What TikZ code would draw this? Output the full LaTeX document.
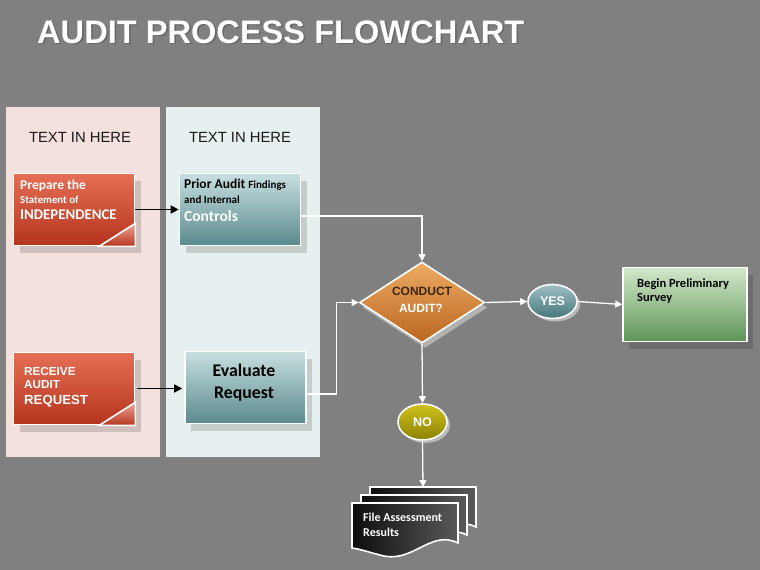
\documentclass[tikz,border=0pt]{standalone}
\usepackage{fontspec}
\setmainfont{Liberation Sans}
\newfontfamily\calfont{Carlito}
\usetikzlibrary{shapes.geometric,shadows,arrows.meta,calc}
\definecolor{bg}{HTML}{808080}
\definecolor{pinkpanel}{HTML}{F4E1DD}
\definecolor{bluepanel}{HTML}{E7F0F0}
\definecolor{redT}{HTML}{E56F55}
\definecolor{redB}{HTML}{B5341E}
\definecolor{tealT}{HTML}{C8DFE0}
\definecolor{tealB}{HTML}{5A8A8C}
\definecolor{greenT}{HTML}{D2E8CA}
\definecolor{greenB}{HTML}{5E9557}
\definecolor{orT}{HTML}{EEAA62}
\definecolor{orB}{HTML}{B9661F}
\definecolor{yesT}{HTML}{9CC0C2}
\definecolor{yesB}{HTML}{46767B}
\definecolor{noT}{HTML}{CFC21E}
\definecolor{noB}{HTML}{8C8200}
\definecolor{conduct}{HTML}{3A2612}
\tikzset{
  x=1pt, y=-1pt,
  box/.style={rectangle, draw=white, line width=1.6pt, inner sep=0pt},
  shad/.style={drop shadow={shadow xshift=6pt, shadow yshift=-7pt, fill=black, opacity=0.15}},
  redbox/.style={box, top color=redT, bottom color=redB, minimum width=121pt, minimum height=72pt, shad},
  tealbox/.style={box, top color=tealT, bottom color=tealB, minimum width=121pt, minimum height=72pt, shad},
  greenbox/.style={box, top color=greenT, bottom color=greenB, minimum width=124pt, minimum height=74pt, shad},
  oval/.style={ellipse, draw=white, line width=1.6pt, inner sep=0pt, minimum width=49pt, minimum height=34pt,
     drop shadow={shadow xshift=3pt, shadow yshift=-3pt, fill=white, opacity=0.45}},
  wline/.style={draw=white, line width=1.3pt},
  warrow/.style={wline, -{Triangle[width=7pt,length=7pt]}},
  barrow/.style={draw=black, line width=1.5pt, -{Triangle[width=8pt,length=8pt]}},
  txt/.style={inner sep=0pt, anchor=west, align=left},
  cal/.style={txt, font=\calfont\bfseries},
}
\begin{document}
\begin{tikzpicture}
\useasboundingbox (0,0) rectangle (760,570);
\fill[bg] (0,0) rectangle (760,570);
% title
\node[txt, text=black!60, font=\bfseries\fontsize{32.6}{36}\selectfont] (titleshadow) at (38.5,33.5) {AUDIT PROCESS FLOWCHART};
\node[txt, text=white, font=\bfseries\fontsize{32.6}{36}\selectfont] (title) at (37,32) {AUDIT PROCESS FLOWCHART};
% panels
\fill[pinkpanel] (6,107) rectangle (160,457);
\fill[bluepanel] (166,107) rectangle (320,457);
\node[font=\fontsize{14.8}{17}\selectfont, text=black!90] (h1) at (80,137) {TEXT IN HERE};
\node[font=\fontsize{14.8}{17}\selectfont, text=black!90] (h2) at (240,137) {TEXT IN HERE};
% red boxes
\node[redbox] (red1) at (74,209.5) {};
\node[redbox] (red2) at (74,388.5) {};
\foreach \n in {red1,red2}{
  \filldraw[draw=white, line width=1.6pt, top color=redT!60!white, bottom color=redB]
    ($(\n.south east)+(-36,0)$) -- ($(\n.south east)+(0,-23)$) -- (\n.south east) -- cycle;
}
\node[cal, text=white, font=\calfont\bfseries\fontsize{13.5}{15}\selectfont] (r1a) at (20,186) {Prepare the};
\node[cal, text=white, font=\calfont\bfseries\fontsize{10.8}{12}\selectfont] (r1b) at (20,200) {Statement of};
\node[cal, text=white, font=\calfont\bfseries\fontsize{14.8}{16}\selectfont] (r1c) at (20,215) {INDEPENDENCE};
\node[txt, text=white, font=\bfseries\fontsize{11.7}{13}\selectfont] (r2a) at (24,371) {RECEIVE};
\node[txt, text=white, font=\bfseries\fontsize{11.7}{13}\selectfont] (r2b) at (24,385) {AUDIT};
\node[txt, text=white, font=\bfseries\fontsize{13.2}{15}\selectfont] (r2c) at (24,401) {REQUEST};
% teal boxes
\node[tealbox] (teal1) at (240,209.5) {};
\node[tealbox] (teal2) at (245.5,387.5) {};
\node[cal, font=\calfont\bfseries\fontsize{13.5}{15}\selectfont] (t1a) at (184,185) {Prior Audit \fontsize{11}{13}\selectfont Findings};
\node[cal, font=\calfont\bfseries\fontsize{11}{13}\selectfont] (t1b) at (184,200) {and Internal};
\node[cal, text=white, font=\calfont\bfseries\fontsize{15.5}{17}\selectfont] (t1c) at (184,216) {Controls};
\node[inner sep=0pt, align=center, font=\calfont\bfseries\fontsize{17.8}{21.5}\selectfont] (t2) at (244,382.5) {Evaluate\\Request};
% diamond
\node[diamond, draw=white, line width=1.6pt, inner sep=0pt, minimum width=125pt, minimum height=81pt,
  top color=orT, bottom color=orB, drop shadow={shadow xshift=3pt, shadow yshift=-5pt, fill=white, opacity=0.4}] (dia) at (422,302.5) {};
\node[font=\bfseries\fontsize{12}{13}\selectfont, text=conduct] (d1) at (422,291) {CONDUCT};
\node[font=\bfseries\fontsize{12}{13}\selectfont, text=white] (d2) at (421,308) {AUDIT?};
% yes / no
\node[oval, top color=yesT, bottom color=yesB, text=white, font=\bfseries\fontsize{12.5}{14}\selectfont] (yes) at (552.5,301.5) {YES};
\node[oval, top color=noT, bottom color=noB, text=white, font=\bfseries\fontsize{12.5}{14}\selectfont, minimum height=36pt] (no) at (422.5,422) {NO};
% green box
\node[greenbox] (green) at (685,304.5) {};
\node[cal, font=\calfont\bfseries\fontsize{12.5}{14}\selectfont] (g1) at (637,284) {Begin Preliminary};
\node[cal, font=\calfont\bfseries\fontsize{12.5}{14}\selectfont] (g2) at (637,298) {Survey};
% documents
\foreach \dx/\dy in {18/-16, 9/-8, 0/0}{
  \filldraw[draw=white, line width=1.6pt, left color=black!95, right color=black!65, shift={(352+\dx,503+\dy)}]
    (0,0) -- (106,0) -- (106,40) .. controls (78,26) and (60,62) .. (28,52) .. controls (16,49) and (8,46) .. (0,45) -- cycle;
}
\coordinate (doctop) at (423,487);
\node[txt, anchor=north west, text=white, font=\calfont\bfseries\fontsize{12}{15}\selectfont] (doctext) at (363,513) {File Assessment\\Results};
% connectors
\draw[barrow] (red1.east) -- (teal1.west);
\draw[barrow] ($(red2.east)+(2,0)$) -- ($(teal2.west)+(-2,1)$);
\draw[warrow] ($(teal1.east)+(0,6.5)$) -| (dia.north);
\draw[warrow] ($(teal2.east)+(0,6.5)$) -- ++(30,0) |- (dia.west);
\draw[warrow] (dia.east) -- (yes.west);
\draw[warrow] (yes.east) -- (green.west);
\draw[warrow] (dia.south) -- (no.north);
\draw[warrow] (no.south) -- (doctop);
\end{tikzpicture}
\end{document}
